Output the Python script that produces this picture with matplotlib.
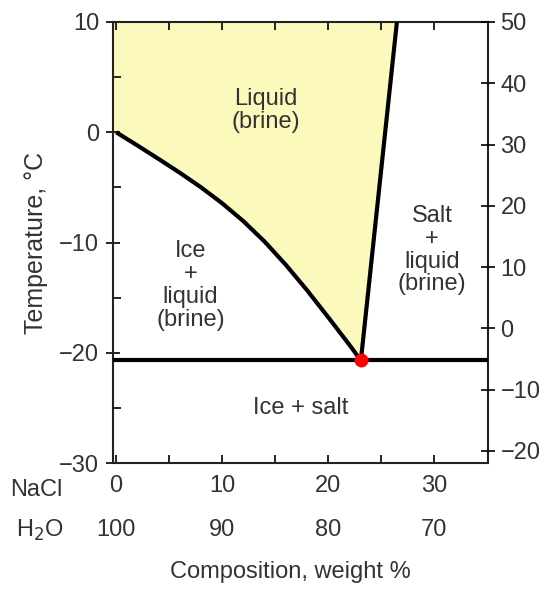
import matplotlib
matplotlib.use("Agg")
import matplotlib.pyplot as plt
import numpy as np
from matplotlib.transforms import blended_transform_factory

plt.rcParams['font.family'] = ['Liberation Sans', 'DejaVu Sans']

# Data
ice_liq_x = [0, 2, 4, 6, 8, 10, 12, 14, 16, 18, 20, 22, 23.1]
ice_liq_t = [0, -1.2, -2.42, -3.67, -4.99, -6.44, -8.06, -9.91, -12.01, -14.31, -16.76, -19.26, -20.7]
salt_liq_x = [23.1, 26.5]
salt_liq_t = [-20.7, 10]
eutectic_x = 23.1
eutectic_t = -20.7
nacl_ticks = [0, 10, 20, 30]
h2o_labels = ['100', '90', '80', '70']
c_ticks = [10, 0, -10, -20, -30]
f_ticks = [50, 40, 30, 20, 10, 0, -10, -20]

labels = [
    ("Liquid\n(brine)", 14.1, 2.0),
    ("Ice\n+\nliquid\n(brine)", 7.0, -13.9),
    ("Salt\n+\nliquid\n(brine)", 29.8, -10.7),
    ("Ice + salt", 17.4, -25.0),
]

FS = 17
txt = '#333333'
fig = plt.figure(figsize=(5.52, 5.89), dpi=100)
ax = fig.add_axes([113/552, 1-463/589, (488-113)/552, (463-22)/589])
xmin, xmax = -0.3, 35.1
tmin, tmax = -30, 10
ax.set_xlim(xmin, xmax)
ax.set_ylim(tmin, tmax)

# yellow liquid region
poly_x = list(ice_liq_x) + [salt_liq_x[1], xmin, xmin]
poly_y = list(ice_liq_t) + [salt_liq_t[1], tmax, 0]
ax.fill(poly_x, poly_y, color='#fbf9bb', lw=0, zorder=1)

ax.plot(ice_liq_x, ice_liq_t, color='black', lw=3, zorder=3, solid_capstyle='butt',
        solid_joinstyle='round')
ax.plot(salt_liq_x, salt_liq_t, color='black', lw=3, zorder=3, solid_capstyle='butt')
ax.axhline(eutectic_t, color='black', lw=3, zorder=3)
ax.plot([eutectic_x], [eutectic_t], 'o', color='#ff0000', ms=10, zorder=5, mec='none')

for s, x, y in labels:
    ax.text(x, y, s, ha='center', va='center', fontsize=FS, color=txt, linespacing=1.05)

for sp in ax.spines.values():
    sp.set_linewidth(1.5)
    sp.set_color('#222222')

ax.set_yticks(c_ticks)
ax.set_yticklabels(['10', '0', '\u221210', '\u221220', '\u221230'])
ax.set_yticks([5, -5, -15, -25], minor=True)
ax.set_xticks(nacl_ticks)
ax.set_xticklabels([str(v) for v in nacl_ticks])
ax.set_xticks([5, 15, 25], minor=True)
ax.tick_params(axis='both', which='both', direction='in', length=6, width=1.2,
               labelsize=FS, labelcolor=txt, top=True)
ax.tick_params(axis='y', which='major', direction='inout', length=10, pad=5)
ax.tick_params(axis='x', which='major', pad=9)

ax.set_ylabel("Temperature, \u00b0C", fontsize=18, color=txt, labelpad=8)

# right axis in Fahrenheit
ax2 = ax.twinx()
ax2.set_ylim(tmin*1.8+32, tmax*1.8+32)
ax2.set_yticks(f_ticks)
ax2.set_yticklabels([str(v) if v >= 0 else '\u2212'+str(-v) for v in f_ticks])
ax2.tick_params(axis='y', direction='inout', length=10, width=1.2, labelsize=FS,
                labelcolor=txt, pad=4)
for sp in ax2.spines.values():
    sp.set_visible(False)

# composition rows
tr = blended_transform_factory(ax.transData, fig.transFigure)
for v, lab in zip(nacl_ticks, h2o_labels):
    ax.text(v, 1-530/589, lab, transform=tr, ha='center', va='center', fontsize=FS, color=txt)
fig.text(10/552, 1-490/589, "NaCl", ha='left', va='center', fontsize=FS, color=txt)
fig.text(16/552, 1-530/589, "H$_2$O", ha='left', va='center', fontsize=FS, color=txt)
fig.text(290/552, 1-572/589, "Composition, weight %", ha='center', va='center', fontsize=FS, color=txt)

fig.savefig("out.png", dpi=100)
